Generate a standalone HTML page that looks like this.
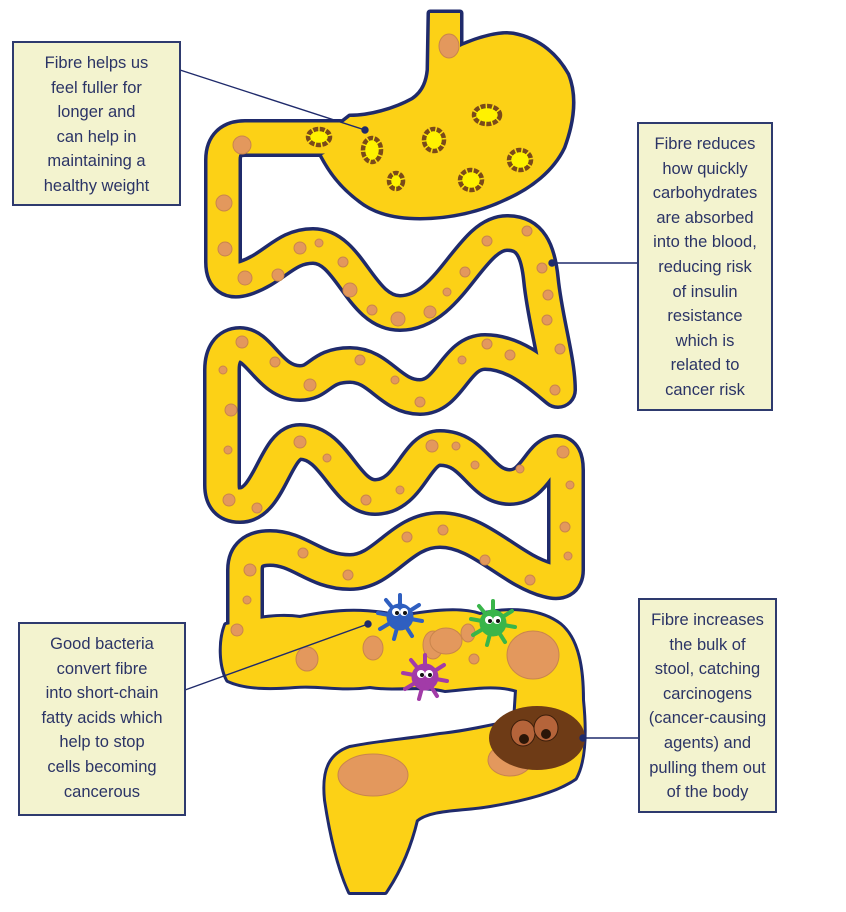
<!DOCTYPE html>
<html><head><meta charset="utf-8"><style>
html,body{margin:0;padding:0;background:#fff;}
body{width:846px;height:912px;position:relative;overflow:hidden;font-family:"Liberation Sans",sans-serif;}
.box{position:absolute;background:#f3f3cf;border:2px solid #2e3a6e;box-sizing:border-box;color:#2b3466;font-size:16.5px;line-height:24.6px;text-align:center;white-space:nowrap;}
svg{position:absolute;left:0;top:0;}
</style></head><body>
<svg width="846" height="912" viewBox="0 0 846 912">
<defs>
<path id="tube" d="M340 138 L245 138 Q223 138 223 160 L223 262 Q223 285 245 278 C275 268 285 246 313 246 C350 246 360 313 400 313 C450 313 470 233 507 233 C530 233 538 250 541 280 C545 320 558 360 558 390 C540 375 515 352 485 352 C455 352 450 397 420 397 C390 397 380 365 350 365 C320 365 320 383 300 383 C270 383 260 345 240 345 C228 345 222 355 222 370 L222 485 Q222 505 240 505 C270 505 275 442 300 442 C335 442 345 497 375 497 C410 497 415 448 440 448 C475 448 480 487 510 487 C535 487 540 453 557 453 Q566 453 566 470 L566 570 Q566 585 548 580 C510 570 480 530 440 530 C400 530 385 572 350 572 C315 572 300 548 270 548 Q245 548 245 570 L245 640"/>
<path id="stom" d="M430 13 L460 13 L460 47 C480 38 500 33 513 35 C540 40 557 57 567 75 C575 95 573 120 563 147 C552 170 530 187 505 198 C480 210 450 217 420 217 C395 217 375 212 360 200 C340 185 330 170 322 155 L336 148 L336 128 L350 117 C370 117 395 110 413 100 C425 92 428 80 429 70 Z"/>
<path id="colon" d="M226 625 C260 618 280 615 300 618 C330 612 360 608 400 617 C430 612 460 608 480 615 C510 608 540 610 560 625 C578 640 582 670 582 700 C585 730 585 760 575 778 C555 792 520 800 490 805 C460 810 430 808 416 820 C410 845 400 870 385 892 L350 892 C340 870 332 840 326 800 C323 770 330 755 350 748 C380 742 410 740 440 735 C470 732 495 725 515 722 L517 690 C495 683 470 688 445 690 C420 684 395 690 370 686 C340 690 320 684 295 686 C270 688 245 688 228 680 C220 665 220 640 226 625 Z"/>
<g id="bug">
<circle r="13"/>
<g stroke-width="4" stroke-linecap="round">
<line x1="0" y1="0" x2="0" y2="-22"/><line x1="0" y1="0" x2="19" y2="-12"/><line x1="0" y1="0" x2="22" y2="4"/><line x1="0" y1="0" x2="12" y2="19"/><line x1="0" y1="0" x2="-6" y2="22"/><line x1="0" y1="0" x2="-20" y2="12"/><line x1="0" y1="0" x2="-22" y2="-4"/><line x1="0" y1="0" x2="-14" y2="-17"/>
</g>
</g>
</defs>
<g stroke="#1f2a6b" stroke-linejoin="round" stroke-linecap="round">
<use href="#tube" fill="none" stroke-width="38"/>
<use href="#stom" fill="#1f2a6b" stroke-width="7"/>
<use href="#colon" fill="#1f2a6b" stroke-width="6"/>
</g>
<g stroke-linejoin="round" stroke-linecap="round">
<use href="#tube" fill="none" stroke="#fcd116" stroke-width="31"/>
<use href="#stom" fill="#fcd116" stroke="none"/>
<use href="#colon" fill="#fcd116" stroke="none"/>
</g>
<g fill="#e3985d" stroke="#c9854c" stroke-width="1">
<ellipse cx="449" cy="46" rx="10" ry="12"/>
<circle cx="242" cy="145" r="9"/><circle cx="224" cy="203" r="8"/><circle cx="225" cy="249" r="7"/><circle cx="245" cy="278" r="7"/>
<circle cx="278" cy="275" r="6"/><circle cx="300" cy="248" r="6"/><circle cx="319" cy="243" r="4"/><circle cx="343" cy="262" r="5"/><circle cx="350" cy="290" r="7"/><circle cx="372" cy="310" r="5"/><circle cx="398" cy="319" r="7"/><circle cx="430" cy="312" r="6"/><circle cx="447" cy="292" r="4"/><circle cx="465" cy="272" r="5"/><circle cx="487" cy="241" r="5"/><circle cx="527" cy="231" r="5"/><circle cx="542" cy="268" r="5"/><circle cx="548" cy="295" r="5"/><circle cx="547" cy="320" r="5"/><circle cx="560" cy="349" r="5"/><circle cx="555" cy="390" r="5"/>
<circle cx="510" cy="355" r="5"/><circle cx="487" cy="344" r="5"/><circle cx="462" cy="360" r="4"/><circle cx="420" cy="402" r="5"/><circle cx="395" cy="380" r="4"/><circle cx="360" cy="360" r="5"/><circle cx="310" cy="385" r="6"/><circle cx="275" cy="362" r="5"/><circle cx="242" cy="342" r="6"/><circle cx="223" cy="370" r="4"/><circle cx="231" cy="410" r="6"/><circle cx="228" cy="450" r="4"/><circle cx="229" cy="500" r="6"/><circle cx="257" cy="508" r="5"/>
<circle cx="300" cy="442" r="6"/><circle cx="327" cy="458" r="4"/><circle cx="366" cy="500" r="5"/><circle cx="400" cy="490" r="4"/><circle cx="432" cy="446" r="6"/><circle cx="456" cy="446" r="4"/><circle cx="475" cy="465" r="4"/><circle cx="520" cy="469" r="4"/><circle cx="563" cy="452" r="6"/><circle cx="570" cy="485" r="4"/><circle cx="565" cy="527" r="5"/><circle cx="568" cy="556" r="4"/>
<circle cx="530" cy="580" r="5"/><circle cx="485" cy="560" r="5"/><circle cx="443" cy="530" r="5"/><circle cx="407" cy="537" r="5"/><circle cx="348" cy="575" r="5"/><circle cx="303" cy="553" r="5"/><circle cx="250" cy="570" r="6"/><circle cx="247" cy="600" r="4"/><circle cx="237" cy="630" r="6"/>
<ellipse cx="307" cy="659" rx="11" ry="12"/><ellipse cx="373" cy="648" rx="10" ry="12"/><ellipse cx="433" cy="645" rx="10" ry="14"/><ellipse cx="446" cy="641" rx="16" ry="13"/>
<circle cx="474" cy="659" r="5"/><ellipse cx="468" cy="633" rx="7" ry="9"/>
<ellipse cx="533" cy="655" rx="26" ry="24"/>
<ellipse cx="373" cy="775" rx="35" ry="21"/>
<ellipse cx="510" cy="760" rx="22" ry="16"/>
</g>
<g fill="#fff200" stroke="#7a4a1a" stroke-width="4.5" stroke-dasharray="5 1.5">
<ellipse cx="319" cy="137" rx="11" ry="8"/><ellipse cx="372" cy="150" rx="9" ry="12"/><ellipse cx="434" cy="140" rx="10" ry="11"/><ellipse cx="487" cy="115" rx="13" ry="9"/><ellipse cx="520" cy="160" rx="11" ry="10"/><ellipse cx="471" cy="180" rx="11" ry="10"/><ellipse cx="396" cy="181" rx="7" ry="8"/>
</g>
<use href="#bug" x="400" y="617" fill="#2f5fc0" stroke="#2f5fc0"/>
<use href="#bug" x="493" y="623" fill="#39b54a" stroke="#39b54a"/>
<use href="#bug" x="425" y="677" fill="#a23ba8" stroke="#a23ba8"/>
<g fill="#fff"><circle cx="396" cy="612" r="4"/><circle cx="404" cy="612" r="4"/><circle cx="489" cy="620" r="4"/><circle cx="497" cy="620" r="4"/><circle cx="421" cy="674" r="4"/><circle cx="429" cy="674" r="4"/></g>
<g fill="#111"><circle cx="397" cy="613" r="2"/><circle cx="405" cy="613" r="2"/><circle cx="490" cy="621" r="2"/><circle cx="498" cy="621" r="2"/><circle cx="422" cy="675" r="2"/><circle cx="430" cy="675" r="2"/></g>
<ellipse cx="537" cy="738" rx="48" ry="32" fill="#6e3b16"/>
<ellipse cx="523" cy="733" rx="12" ry="13" fill="#b5643a" stroke="#3a1d0a"/><ellipse cx="546" cy="728" rx="12" ry="13" fill="#b5643a" stroke="#3a1d0a"/>
<circle cx="524" cy="739" r="5" fill="#2a1608"/><circle cx="546" cy="734" r="5" fill="#2a1608"/>
<g stroke="#1f2a6b" stroke-width="1.4" fill="#1f2a6b">
<line x1="180" y1="70" x2="365" y2="130"/><circle cx="365" cy="130" r="3"/>
<line x1="552" y1="263" x2="637" y2="263"/><circle cx="552" cy="263" r="3"/>
<line x1="185" y1="690" x2="368" y2="624"/><circle cx="368" cy="624" r="3"/>
<line x1="583" y1="738" x2="638" y2="738"/><circle cx="583" cy="738" r="3"/>
</g>
</svg>
<div class="box" style="left:12px;top:41px;width:169px;height:165px;padding-top:8px;">Fibre helps us<br>feel fuller for<br>longer and<br>can help in<br>maintaining a<br>healthy weight</div>
<div class="box" style="left:637px;top:122px;width:136px;height:289px;padding-top:8px;">Fibre reduces<br>how quickly<br>carbohydrates<br>are absorbed<br>into the blood,<br>reducing risk<br>of insulin<br>resistance<br>which is<br>related to<br>cancer risk</div>
<div class="box" style="left:18px;top:622px;width:168px;height:194px;padding-top:8px;">Good bacteria<br>convert fibre<br>into short-chain<br>fatty acids which<br>help to stop<br>cells becoming<br>cancerous</div>
<div class="box" style="left:638px;top:598px;width:139px;height:215px;padding-top:8px;">Fibre increases<br>the bulk of<br>stool, catching<br>carcinogens<br>(cancer-causing<br>agents) and<br>pulling them out<br>of the body</div>
</body></html>
